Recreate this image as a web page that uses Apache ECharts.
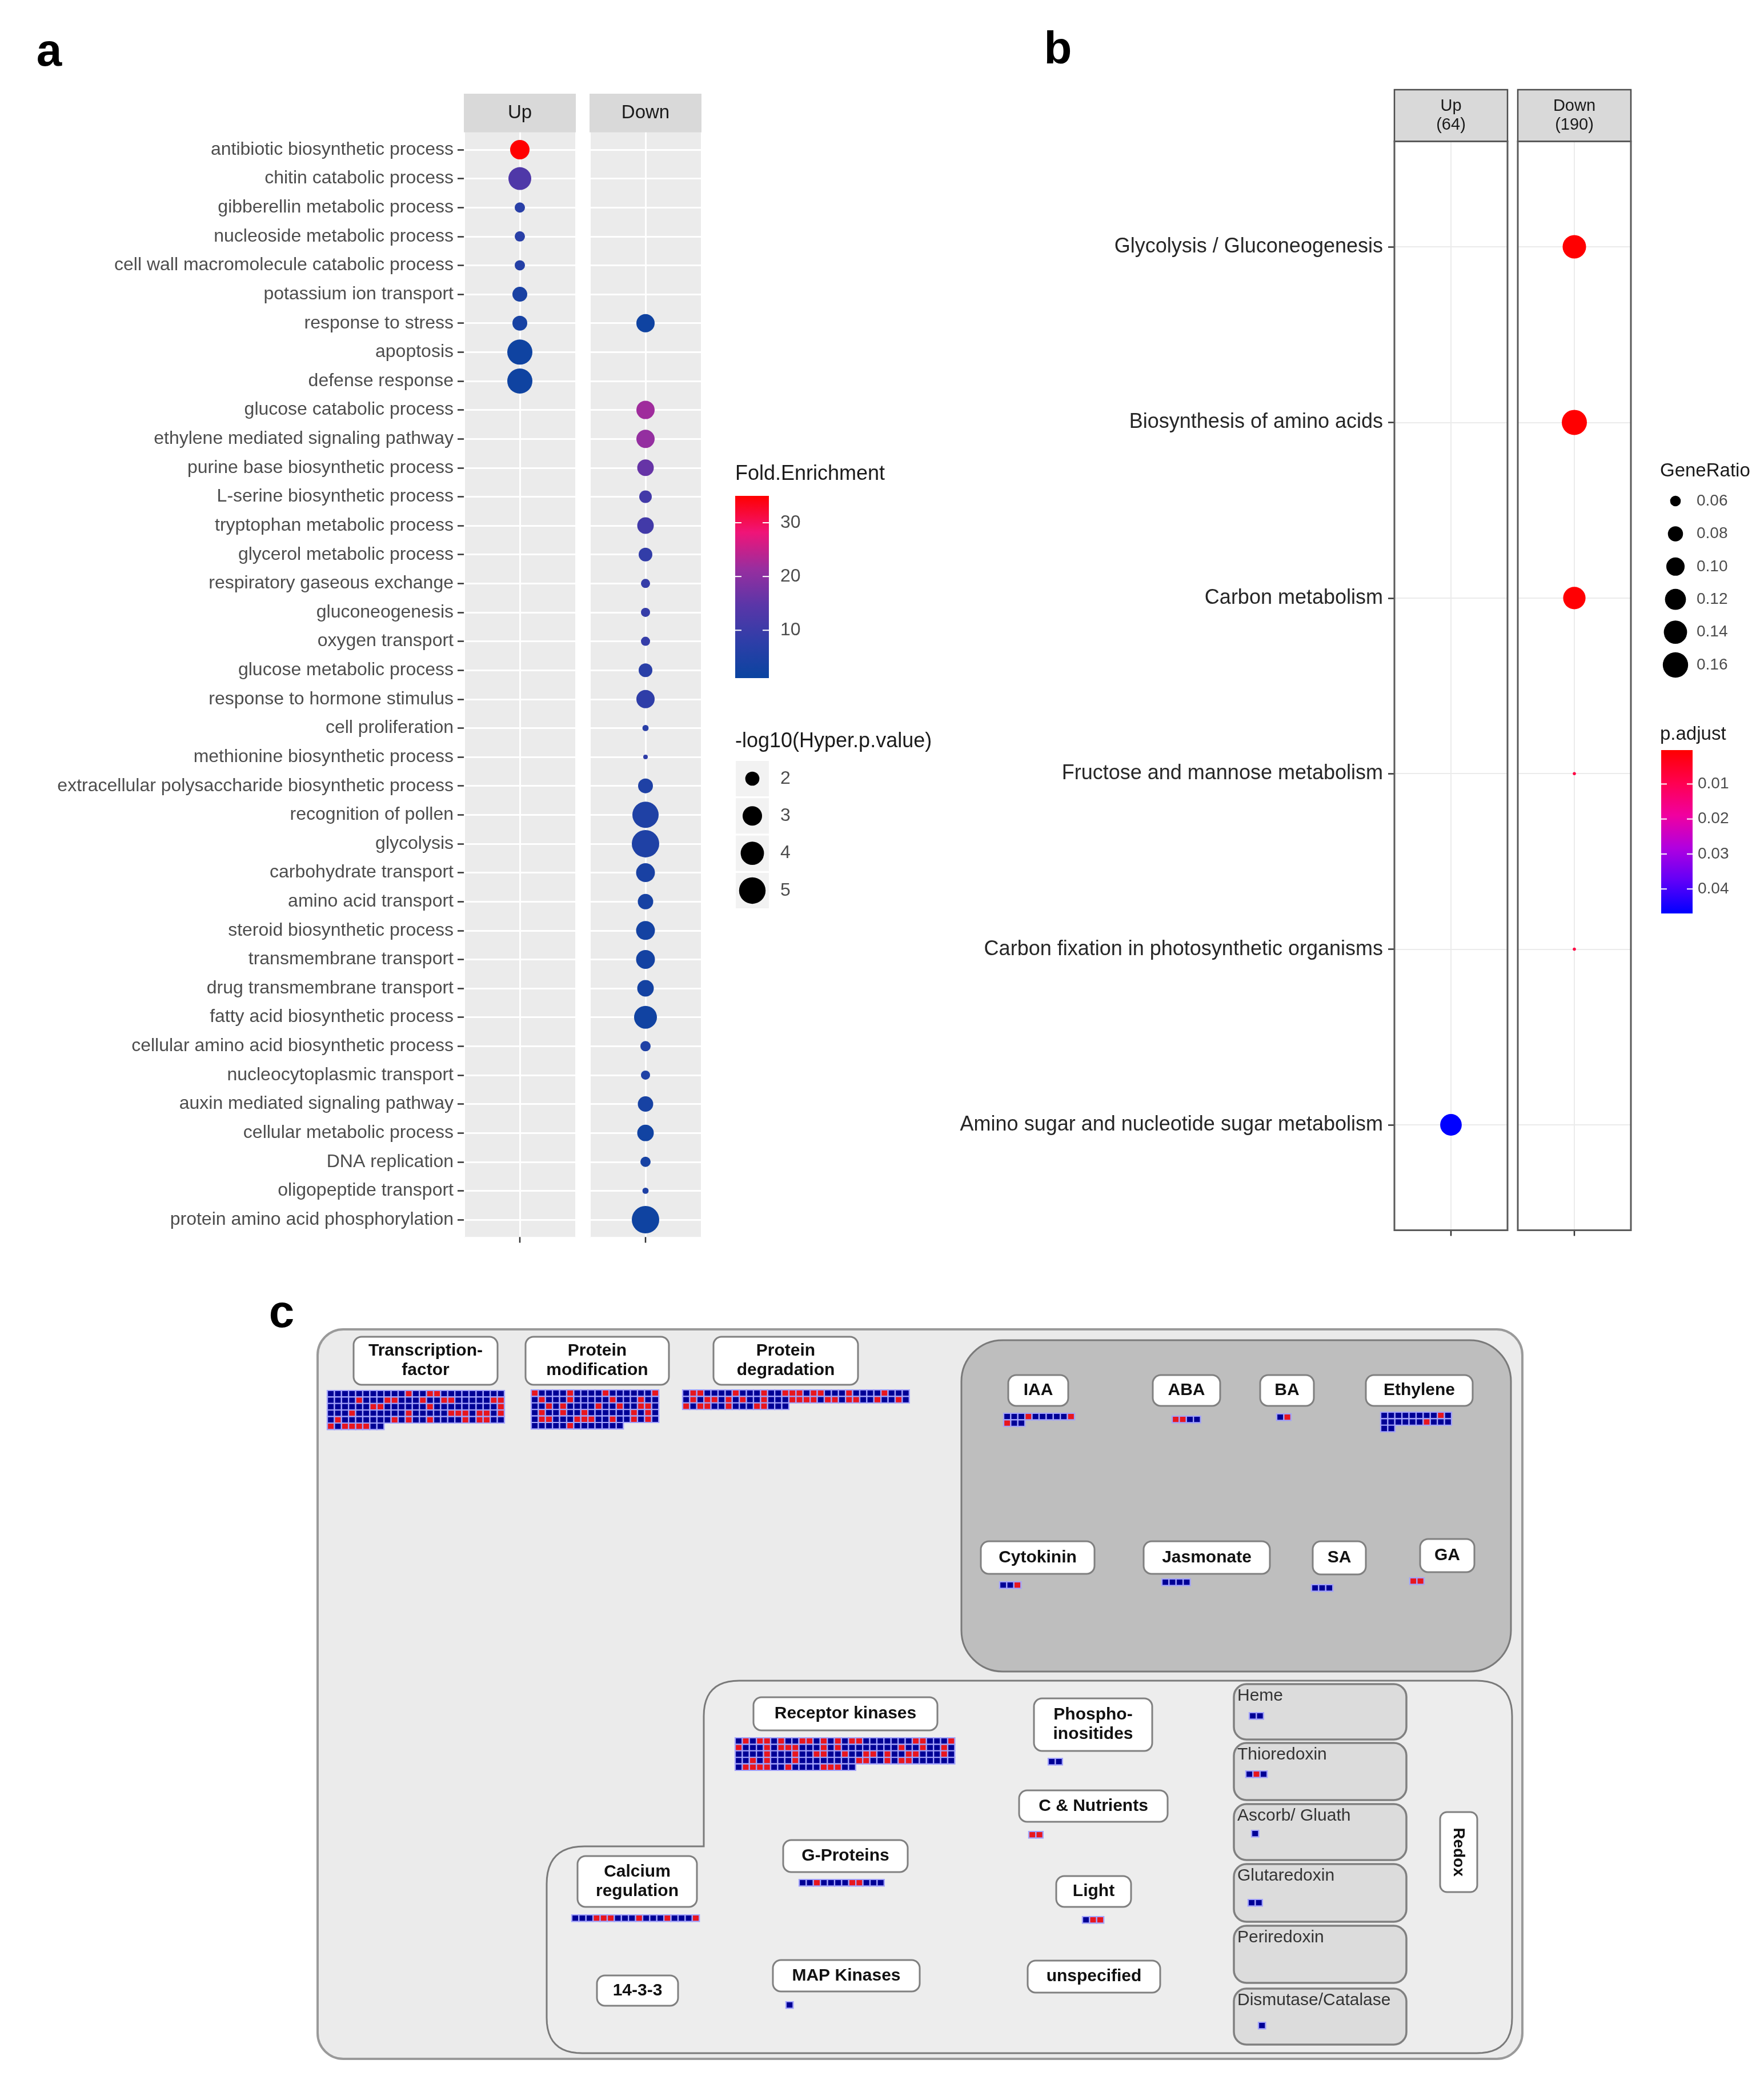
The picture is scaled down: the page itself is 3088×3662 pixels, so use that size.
<!DOCTYPE html>
<html><head><meta charset="utf-8">
<script src="https://cdn.jsdelivr.net/npm/echarts@6/dist/echarts.min.js"></script>
<style>html,body{margin:0;padding:0;background:#fff}#c{width:3088px;height:3662px}</style>
</head><body><div id="c"></div>
<script>
// ================= DATA =================
// Panel a : GO enrichment
const goTerms = [
 'antibiotic biosynthetic process','chitin catabolic process','gibberellin metabolic process',
 'nucleoside metabolic process','cell wall macromolecule catabolic process','potassium ion transport',
 'response to stress','apoptosis','defense response','glucose catabolic process',
 'ethylene mediated signaling pathway','purine base biosynthetic process','L-serine biosynthetic process',
 'tryptophan metabolic process','glycerol metabolic process','respiratory gaseous exchange',
 'gluconeogenesis','oxygen transport','glucose metabolic process','response to hormone stimulus',
 'cell proliferation','methionine biosynthetic process','extracellular polysaccharide biosynthetic process',
 'recognition of pollen','glycolysis','carbohydrate transport','amino acid transport',
 'steroid biosynthetic process','transmembrane transport','drug transmembrane transport',
 'fatty acid biosynthetic process','cellular amino acid biosynthetic process','nucleocytoplasmic transport',
 'auxin mediated signaling pathway','cellular metabolic process','DNA replication',
 'oligopeptide transport','protein amino acid phosphorylation'];
const goFacets = ['Up','Down'];
const goUpLogP = [2.99,3.86,1.55,1.55,1.55,2.11,2.11,4.54,4.54,
 null,null,null,null,null,null,null,null,null,null,null,null,null,null,null,null,null,null,null,null,null,null,null,null,null,null,null,null,null];
const goUpFE = [35,13,7,7,6,4,3.5,2,2,
 null,null,null,null,null,null,null,null,null,null,null,null,null,null,null,null,null,null,null,null,null,null,null,null,null,null,null,null,null];
const goDownLogP = [null,null,null,null,null,null,2.74,null,null,
 2.74,2.74,2.40,1.79,2.40,1.94,1.46,1.46,1.46,1.94,2.74,1.32,1.30,2.11,4.91,5.30,2.86,2.20,2.86,2.86,2.40,3.86,1.55,1.46,2.20,2.40,1.55,1.32,5.30];
const goDownFE = [null,null,null,null,null,null,2,null,null,
 22,21,16,11,11,8.5,9,9,9,7,8,7,8,5,5,5,4,3.5,3,3,3,2.5,5,5,3.5,2.5,3.5,5,2];
const feTicks = [10,20,30];
const logpBreaks = [2,3,4,5];

// Panel b : KEGG enrichment
const keggTerms = ['Glycolysis / Gluconeogenesis','Biosynthesis of amino acids','Carbon metabolism',
 'Fructose and mannose metabolism','Carbon fixation in photosynthetic organisms',
 'Amino sugar and nucleotide sugar metabolism'];
const keggFacets = ['Up\n(64)','Down\n(190)'];
const keggUpRatio = [null,null,null,null,null,0.125];
const keggUpPadj = [null,null,null,null,null,0.047];
const keggDownRatio = [0.142,0.158,0.132,0.047,0.047,null];
const keggDownPadj = [0.0004,0.0004,0.0006,0.008,0.008,null];
const ratioBreaks = [0.06,0.08,0.10,0.12,0.14,0.16];
const padjTicks = [0.01,0.02,0.03,0.04];

// Panel c : MapMan regulation overview (R = red square, B = blue square; rows split by |)
const mmBins = ['Transcription factor','Protein modification','Protein degradation','IAA','ABA','BA',
 'Ethylene','Cytokinin','Jasmonate','SA','GA','Receptor kinases','Phospho-inositides','C & Nutrients',
 'G-Proteins','Calcium regulation','Light','MAP Kinases','Heme','Thioredoxin','Ascorb/ Gluath',
 'Glutaredoxin','Periredoxin','Dismutase/Catalase'];
const mmGenes = [
 'BBBBBBBBBBBRBBRRBBBBBBBBB|BBBBRBBBRRBBBRBBRRBBBBBRR|BBBBBBRRBBBBBBRBBBBBBBBBR|BBBRBBBBBBBRBBBBBRRRBRRBR|BRBBBBBBBRBRBBRBBBBRBRRBB|RBRRRRBB',
 'RBBBBRBBBBRBBBBBBR|BRBBBRBBBBBRBBBRBB|BBRBRBBBBRBBRBBRRB|BRBBRBBRBBBBBBRBRB|BRRBBBRRRBBRBBRBRB|BBBBBRBBBBBBB',
 'BRRBBBBRBBBRBBRRRBRRBBBRBBBBRBBB|BRBRRBRBRBBRBBBRRRRBRRBRRBBRBBRB|RBRRBBRBBBRRBBB',
 'BBBRBBBBBR|RBB','RRBB','BR','BBBBBBBBRB|BBBBBBRBBB|BB','BBR','BBBB','BBB','RR',
 'BRBRRBRBBRRBRBRBRRBBBBBBBRRBBBR|RBBBRBRRRBBBRBRBBBBBBBBRBBRBBRB|BBBBRBBBRBBRRBBRBBRRBRBBRRBBBRB|BBRBRBBBRBBBBBBBBRRBBRBRRBBBBBB|BRRRRBBRBBBBRRRBB',
 'BB','RR','BBRBBBBRRBBB','BBBRRRBBBRBBBRBBBR','BRR','B','BB','BRB','B','BB','','B'];

// ================= LAYOUT / STYLE =================
const FONT = '"Liberation Sans", Arial, Helvetica, sans-serif';
const W = 3088, H = 3662;
const A = {top:262, bot:2135, panels:[[812,196],[1032,196]], stripTop:164};
const aStep = (A.bot - A.top)/(goTerms.length-1);
const aPTop = A.top - 0.6*aStep, aPBot = A.bot + 0.6*aStep;
const B = {top:432, bot:1969, panels:[[2441,198],[2657,198]], stripTop:157};
const bStep = (B.bot - B.top)/(keggTerms.length-1);
const bPTop = B.top - 0.6*bStep, bPBot = B.bot + 0.6*bStep;

const FE_MIN = 1.1, FE_MAX = 35.0;
const FE_COLORS = ['#0A44A0','#2E3EA8','#5A36A8','#982E9F','#F01478','#FF0000'];
const PADJ_MIN = 0.0003, PADJ_MAX = 0.047;
const PADJ_COLORS = ['#FF0000','#FF0050','#F000A0','#B000E0','#6000F8','#0000FF'];

function sizeA(v){ return 8 + 40*Math.sqrt(Math.max(0, v-1.3)/4); }
function sizeB(v){ return 5.5 + 38.5*Math.sqrt(Math.max(0, v-0.047)/0.111); }

const mmAnchor = [[573,2434],[930,2433],[1195,2433],[1757,2474],[2052,2479],[2235,2475],[2417,2472],
 [1750,2769],[2034,2764],[2296,2774],[2468,2762],[1287,3042],[1835,3078],[1801,3206],[1399,3290],
 [1001,3352],[1895,3355],[1376,3504],[2187,2998],[2181,3100],[2191,3204],[2185,3325],[2187,3430],[2203,3540]];
const PX = 12.4, PY = 11.4;
const mmBoxes = [
 ['Transcription-\nfactor',619,2340,871,2424],['Protein\nmodification',920,2340,1171,2424],
 ['Protein\ndegradation',1249,2340,1502,2424],['IAA',1765,2407,1870,2461],['ABA',2018,2407,2136,2461],
 ['BA',2206,2407,2300,2461],['Ethylene',2391,2407,2578,2461],['Cytokinin',1717,2698,1916,2755],
 ['Jasmonate',2002,2698,2223,2755],['SA',2298,2698,2391,2756],['GA',2486,2694,2581,2752],
 ['Receptor kinases',1319,2971,1641,3029],['Phospho-\ninositides',1810,2973,2017,3065],
 ['C & Nutrients',1784,3134,2044,3189],['G-Proteins',1371,3221,1589,3277],
 ['Calcium\nregulation',1011,3249,1220,3338],['Light',1849,3284,1980,3338],
 ['14-3-3',1045,3458,1187,3511],['MAP Kinases',1353,3431,1610,3486],['unspecified',1799,3432,2031,3488]];
const redoxBoxes = [['Heme',2948,3045],['Thioredoxin',3051,3151],['Ascorb/ Gluath',3158,3256],
 ['Glutaredoxin',3263,3364],['Periredoxin',3371,3471],['Dismutase/Catalase',3481,3579]];

// ================= BUILD =================
const g = [];
function rect(x,y,w,h,style,z,r){ g.push({type:'rect',silent:true,z:z,shape:{x:x,y:y,width:w,height:h,r:r||0},style:style}); }
function text(x,y,s,font,fill,align,valign,z,extra){
  const e = {type:'text',silent:true,z:(z==null?20:z),x:x,y:y,style:Object.assign({text:s,font:font,fill:fill,align:align||'left',verticalAlign:valign||'middle'},extra||{})};
  g.push(e); return e;
}
function line(x1,y1,x2,y2,stroke,lw,z){ g.push({type:'line',silent:true,z:z||20,shape:{x1:x1,y1:y1,x2:x2,y2:y2},style:{stroke:stroke,lineWidth:lw}}); }
function grad(colors){ return new echarts.graphic.LinearGradient(0,0,0,1,colors.map((c,i)=>({offset:i/(colors.length-1),color:c}))); }
function roundedPoly(corners){
  const pts = []; const n = corners.length;
  for(let i=0;i<n;i++){
    const p = corners[i], prev = corners[(i+n-1)%n], next = corners[(i+1)%n], r = p[2];
    if(!r){ pts.push([p[0],p[1]]); continue; }
    const d1 = [prev[0]-p[0], prev[1]-p[1]], l1 = Math.hypot(d1[0],d1[1]);
    const d2 = [next[0]-p[0], next[1]-p[1]], l2 = Math.hypot(d2[0],d2[1]);
    const a = [p[0]+d1[0]/l1*r, p[1]+d1[1]/l1*r], b = [p[0]+d2[0]/l2*r, p[1]+d2[1]/l2*r];
    for(let k=0;k<=12;k++){ const t=k/12, u=1-t;
      pts.push([u*u*a[0]+2*u*t*p[0]+t*t*b[0], u*u*a[1]+2*u*t*p[1]+t*t*b[1]]); }
  }
  return pts;
}

// panel letters
text(86,93,'a','bold 80px '+FONT,'#000','center','middle');
text(1852,89,'b','bold 80px '+FONT,'#000','center','middle');
text(493,2301,'c','bold 80px '+FONT,'#000','center','middle');

// panel a backgrounds + strips
A.panels.forEach((p,i)=>{
  rect(p[0],aPTop,p[1],aPBot-aPTop,{fill:'#EBEBEB'},-10);
  rect(p[0],A.stripTop,p[1],aPTop-A.stripTop,{fill:'#D9D9D9'},-10);
  text(p[0]+p[1]/2,(A.stripTop+aPTop)/2,goFacets[i],'33px '+FONT,'#1A1A1A','center','middle');
  line(p[0]+p[1]/2,aPBot,p[0]+p[1]/2,aPBot+10,'#333',2.5);
});
text(1287,830,'Fold.Enrichment','36px '+FONT,'#1A1A1A','left','middle');
const cbA = {x:1287,y:868,w:59,h:319};
rect(cbA.x,cbA.y,cbA.w,cbA.h,{fill:grad(FE_COLORS.slice().reverse())},5);
feTicks.forEach(t=>{
  const y = cbA.y + (FE_MAX-t)/(FE_MAX-FE_MIN)*cbA.h;
  line(cbA.x,y,cbA.x+11,y,'#fff',2,6); line(cbA.x+cbA.w-11,y,cbA.x+cbA.w,y,'#fff',2,6);
  text(1366,y,String(t),'32px '+FONT,'#4D4D4D','left','middle');
});
text(1287,1298,'-log10(Hyper.p.value)','36px '+FONT,'#1A1A1A','left','middle');
logpBreaks.forEach((v,i)=>{
  const y = 1363 + i*65.3;
  rect(1287,y-32,60,64,{fill:'#F2F2F2',stroke:'#fff',lineWidth:2},4);
  g.push({type:'circle',silent:true,z:6,shape:{cx:1317,cy:y,r:sizeA(v)/2},style:{fill:'#000'}});
  text(1366,y,String(v),'32px '+FONT,'#4D4D4D','left','middle');
});

// panel b strips / borders
B.panels.forEach((p,i)=>{
  rect(p[0],B.stripTop,p[1],bPTop-B.stripTop,{fill:'#D9D9D9',stroke:'#4D4D4D',lineWidth:2.5},8);
  text(p[0]+p[1]/2,(B.stripTop+bPTop)/2,keggFacets[i],'29px '+FONT,'#1A1A1A','center','middle',20,{lineHeight:33});
  rect(p[0],bPTop,p[1],bPBot-bPTop,{fill:'none',stroke:'#5A5A5A',lineWidth:3},50);
  line(p[0]+p[1]/2,bPBot,p[0]+p[1]/2,bPBot+10,'#333',2.5);
});
text(2906,825,'GeneRatio','33px '+FONT,'#1A1A1A','left','middle');
ratioBreaks.forEach((v,i)=>{
  const y = 877 + i*57.4;
  g.push({type:'circle',silent:true,z:6,shape:{cx:2933,cy:y,r:sizeB(v)/2},style:{fill:'#000'}});
  text(2970,y,v.toFixed(2),'28px '+FONT,'#4D4D4D','left','middle');
});
text(2906,1286,'p.adjust','33px '+FONT,'#1A1A1A','left','middle');
const cbB = {x:2908,y:1313,w:55,h:286};
rect(cbB.x,cbB.y,cbB.w,cbB.h,{fill:grad(PADJ_COLORS)},5);
padjTicks.forEach(t=>{
  const y = cbB.y + (t-PADJ_MIN)/(PADJ_MAX-PADJ_MIN)*cbB.h;
  line(cbB.x,y,cbB.x+10,y,'#fff',2,6); line(cbB.x+cbB.w-10,y,cbB.x+cbB.w,y,'#fff',2,6);
  text(2972,y,t.toFixed(2),'28px '+FONT,'#4D4D4D','left','middle');
});

// panel c containers
rect(556,2327,2109,1277,{fill:'#EBEBEB',stroke:'#9A9A9A',lineWidth:4},-9,45);
rect(1683,2346,962,580,{fill:'#BEBEBE',stroke:'#7A7A7A',lineWidth:3},-8,72);
g.push({type:'polygon',silent:true,z:-8,shape:{points:roundedPoly([
  [1232,3232,0],[1232,2942,62],[2647,2942,62],[2647,3594,62],[957,3594,62],[957,3232,66]])},
  style:{fill:'#EDEDED',stroke:'#7A7A7A',lineWidth:3}});
mmBoxes.forEach(b=>{
  rect(b[1],b[2],b[3]-b[1],b[4]-b[2],{fill:'#FFFFFF',stroke:'#808080',lineWidth:3},-7,14);
  text((b[1]+b[3])/2,(b[2]+b[4])/2,b[0],'bold 30px '+FONT,'#111','center','middle',-6,{lineHeight:34});
});
redoxBoxes.forEach(b=>{
  rect(2160,b[1],302,b[2]-b[1],{fill:'#DCDCDC',stroke:'#808080',lineWidth:3.5},-7,22);
  text(2166,b[1]+21,b[0],'30px '+FONT,'#333','left','middle',-6);
});
rect(2521,3172,65,140,{fill:'#FFFFFF',stroke:'#808080',lineWidth:3},-7,12);
g.push({type:'text',silent:true,z:-6,x:2553,y:3242,rotation:-Math.PI/2,
  style:{text:'Redox',font:'bold 28px '+FONT,fill:'#111',align:'center',verticalAlign:'middle'}});

// panel c squares
const mmData = [];
mmGenes.forEach((s,gi)=>{
  if(!s) return;
  const a = mmAnchor[gi];
  s.split('|').forEach((row,r)=>{
    row.split('').forEach((ch,c)=>{
      mmData.push({value:[a[0]+PX*(c+0.5), a[1]+PY*(r+0.5)], itemStyle:{color: ch==='R' ? '#E8161E' : '#000096'}});
    });
  });
});

// ================= OPTION =================
function gridOf(l,t,w,h){ return {left:l,top:t,width:w,height:h,containLabel:false,outerBoundsMode:'none'}; }
const grids = [
  gridOf(A.panels[0][0],A.top,A.panels[0][1],A.bot-A.top),
  gridOf(A.panels[1][0],A.top,A.panels[1][1],A.bot-A.top),
  gridOf(B.panels[0][0],B.top,B.panels[0][1],B.bot-B.top),
  gridOf(B.panels[1][0],B.top,B.panels[1][1],B.bot-B.top),
  gridOf(0,0,W,H),
  // full-panel grids (vertical grid lines across the whole facet panel)
  gridOf(A.panels[0][0],aPTop,A.panels[0][1],aPBot-aPTop),
  gridOf(A.panels[1][0],aPTop,A.panels[1][1],aPBot-aPTop),
  gridOf(B.panels[0][0],bPTop,B.panels[0][1],bPBot-bPTop),
  gridOf(B.panels[1][0],bPTop,B.panels[1][1],bPBot-bPTop)
];
function xAx(gi,split,splitColor,splitW){
  return {type:'value',gridIndex:gi,min:0,max:2,interval:1,axisLine:{show:false},axisTick:{show:false},
   axisLabel:{show:false},splitLine:{show:split,lineStyle:{color:splitColor,width:splitW}}};
}
function yAx(gi,cats,showLab,fs,col,margin,splitColor,splitW){
  return {type:'category',gridIndex:gi,data:cats,inverse:true,boundaryGap:false,axisLine:{show:false},
   axisTick:{show:showLab,interval:0,length:11,lineStyle:{color:'#333',width:2.5}},
   axisLabel:{show:showLab,interval:0,margin:margin,fontSize:fs,fontFamily:FONT,color:col},
   splitLine:{show:true,interval:0,lineStyle:{color:splitColor,width:splitW}}};
}
function yHidden(gi){ return {type:'value',gridIndex:gi,min:0,max:1,show:false,splitLine:{show:false}}; }
function pts(vals,cols){ const out=[]; vals.forEach((v,i)=>{ if(v!=null) out.push([1,i,v,cols[i]]); }); return out; }
const dotStyle = {opacity:1};

const option = {
  animation:false,
  backgroundColor:'#ffffff',
  grid: grids,
  xAxis:[xAx(0,false),xAx(1,false),xAx(2,false),xAx(3,false),
    {type:'value',gridIndex:4,min:0,max:W,show:false},
    xAx(5,true,'#ffffff',3),xAx(6,true,'#ffffff',3),xAx(7,true,'#EBEBEB',2),xAx(8,true,'#EBEBEB',2)],
  yAxis:[yAx(0,goTerms,true,32,'#4D4D4D',18,'#ffffff',3),yAx(1,goTerms,false,32,'#4D4D4D',18,'#ffffff',3),
    yAx(2,keggTerms,true,36,'#262626',20,'#EBEBEB',2),yAx(3,keggTerms,false,36,'#262626',20,'#EBEBEB',2),
    {type:'value',gridIndex:4,min:0,max:H,inverse:true,show:false},
    yHidden(5),yHidden(6),yHidden(7),yHidden(8)],
  visualMap:[
    {type:'continuous',show:false,min:FE_MIN,max:FE_MAX,dimension:3,seriesIndex:[0,1],inRange:{color:FE_COLORS}},
    {type:'continuous',show:false,min:PADJ_MIN,max:PADJ_MAX,dimension:3,seriesIndex:[2,3],inRange:{color:PADJ_COLORS}}
  ],
  series:[
    {type:'scatter',xAxisIndex:0,yAxisIndex:0,data:pts(goUpLogP,goUpFE),symbolSize:v=>sizeA(v[2]),itemStyle:dotStyle,emphasis:{disabled:true},z:3},
    {type:'scatter',xAxisIndex:1,yAxisIndex:1,data:pts(goDownLogP,goDownFE),symbolSize:v=>sizeA(v[2]),itemStyle:dotStyle,emphasis:{disabled:true},z:3},
    {type:'scatter',xAxisIndex:2,yAxisIndex:2,data:pts(keggUpRatio,keggUpPadj),symbolSize:v=>sizeB(v[2]),itemStyle:dotStyle,emphasis:{disabled:true},z:3},
    {type:'scatter',xAxisIndex:3,yAxisIndex:3,data:pts(keggDownRatio,keggDownPadj),symbolSize:v=>sizeB(v[2]),itemStyle:dotStyle,emphasis:{disabled:true},z:3},
    {type:'scatter',xAxisIndex:4,yAxisIndex:4,data:mmData,symbol:'rect',symbolSize:[PX,PY],
     itemStyle:{borderColor:'#A2A2FA',borderWidth:2.2,opacity:1},emphasis:{disabled:true},z:3}
  ],
  graphic:{elements:g}
};
const chart = echarts.init(document.getElementById('c'),null,{renderer:'canvas',width:W,height:H});
chart.setOption(option);
</script>
</body></html>
